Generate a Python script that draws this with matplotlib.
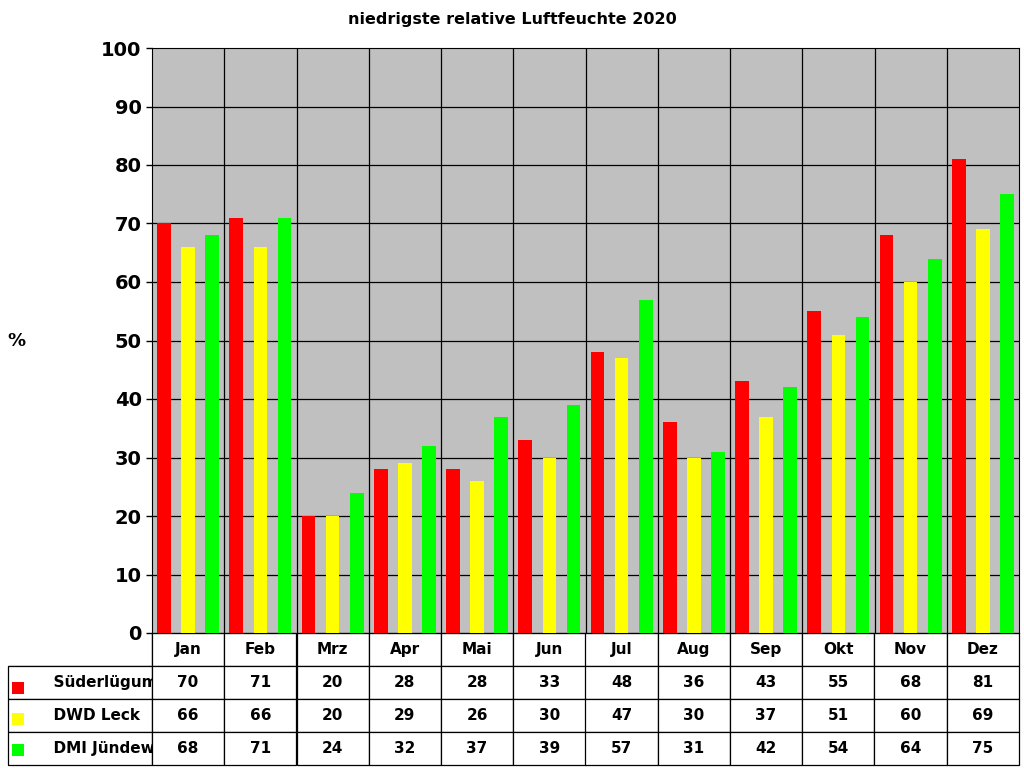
import numpy as np
import matplotlib.pyplot as plt
from matplotlib.patches import Rectangle

months = ["Jan", "Feb", "Mrz", "Apr", "Mai", "Jun", "Jul", "Aug", "Sep", "Okt", "Nov", "Dez"]
series_names = ["Süderlügum", "DWD Leck", "DMI Jündewatt"]
suederluegum = [70, 71, 20, 28, 28, 33, 48, 36, 43, 55, 68, 81]
dwd_leck = [66, 66, 20, 29, 26, 30, 47, 30, 37, 51, 60, 69]
dmi_juendewatt = [68, 71, 24, 32, 37, 39, 57, 31, 42, 54, 64, 75]
colors = ["#FF0000", "#FFFF00", "#00FF00"]

fig = plt.figure(figsize=(10.24, 7.68), dpi=100)
ax = fig.add_axes([152/1024, 135/768, 867/1024, 585/768])
ax.set_facecolor("#C0C0C0")

x = np.arange(len(months))
for i, (vals, c) in enumerate(zip([suederluegum, dwd_leck, dmi_juendewatt], colors)):
  ax.bar(x + (i - 1) * 0.335, vals, width=0.19, color=c, zorder=3)

ax.set_xlim(-0.5, len(months) - 0.5)
ax.set_ylim(0, 100)
ax.set_yticks(range(0, 101, 10))
ax.set_yticklabels([str(v) for v in range(0, 101, 10)], fontsize=14, fontweight="bold")
ax.tick_params(axis="y", length=4, width=1)
ax.set_xticks([])
for v in range(10, 100, 10):
  ax.axhline(v, color="black", lw=0.9, zorder=1)
for m in range(1, len(months)):
  ax.axvline(m - 0.5, color="black", lw=0.9, zorder=1)
for s in ax.spines.values():
  s.set_color("black")

fig.text(0.5, 0.975, "niedrigste relative Luftfeuchte 2020", ha="center", va="center",
         fontsize=11.5, fontweight="bold")
fig.text(16/1024, 1 - 341/768, "%", ha="center", va="center", fontsize=13, fontweight="bold")

# data table below the plot
cell_text = [[""] + months]
for name, vals in zip(series_names, [suederluegum, dwd_leck, dmi_juendewatt]):
  cell_text.append(["      " + name] + [str(v) for v in vals])
left = (8 - 152) / 867
tab = ax.table(cellText=cell_text, bbox=[left, -132/585, 1 - left, 132/585],
               colWidths=[144] + [72.25] * 12, cellLoc="center")
tab.auto_set_font_size(False)
for (r, c), cell in tab.get_celld().items():
  cell.set_linewidth(0.9)
  cell.set_facecolor("white")
  cell.get_text().set_fontsize(11)
  cell.get_text().set_fontweight("bold")
  if c == 0:
    cell.get_text().set_ha("left")
    cell._loc = "left"
  if r == 0 and c == 0:
    cell.visible_edges = "BR"

row_y = [688, 719, 750]
for ry, c in zip(row_y, colors):
  fig.add_artist(Rectangle((12/1024, 1 - (ry + 6)/768), 12/1024, 12/768,
                           transform=fig.transFigure, facecolor=c, edgecolor="none"))

fig.savefig("out.png", dpi=100)
